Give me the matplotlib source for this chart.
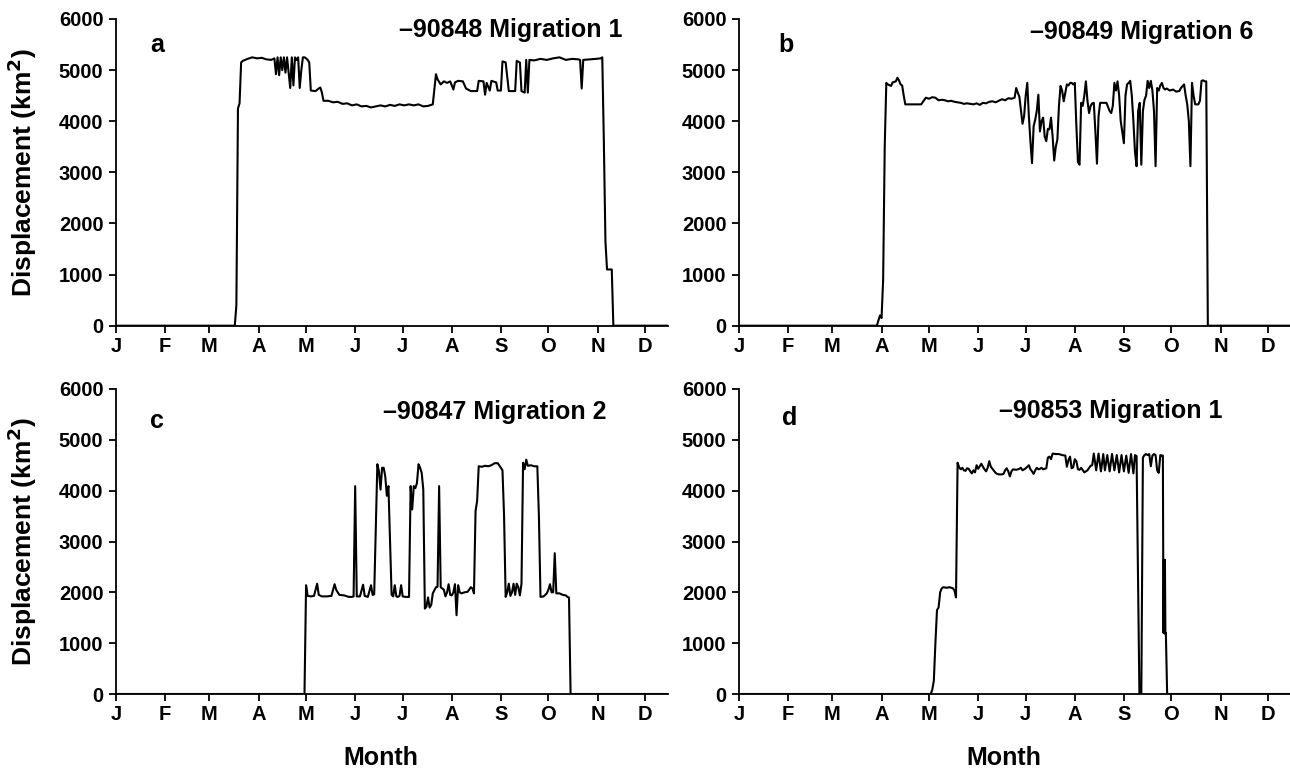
import matplotlib
matplotlib.use("Agg")
import matplotlib.pyplot as plt
import numpy as np

plt.rcParams['font.family'] = ['Liberation Sans', 'DejaVu Sans']
plt.rcParams['font.weight'] = 'bold'
plt.rcParams['font.size'] = 14.5

# month boundaries (day of year) and labels
month_starts = [0, 31, 59, 90, 120, 151, 181, 212, 243, 273, 304, 334]
month_labels = ['J', 'F', 'M', 'A', 'M', 'J', 'J', 'A', 'S', 'O', 'N', 'D']
x_end = 348.5

# panel a: -90848 Migration 1
a_days = [0, 75, 76, 77, 78, 79, 80, 83, 86, 89, 92, 95, 98,
          100, 101, 102, 103, 104, 105, 106, 107, 108, 109, 110, 111, 112, 113, 114, 115,
          116, 117, 118, 119, 120, 121, 122, 123, 126, 128, 129, 130, 131, 134, 137, 140,
          143, 146, 149, 152, 155, 158, 161, 164, 167, 170, 173, 176, 179, 182, 185, 188,
          191, 194, 197, 200, 202, 203, 205, 207, 209, 211, 213, 214, 216, 219, 221, 224,
          228, 229, 232, 233, 234, 236, 237, 240, 241, 243, 244, 246, 248, 252, 253, 255,
          256, 258, 259, 260, 261, 264, 268, 272, 276, 280, 284, 288, 292, 293, 294, 295,
          299, 303, 306, 307, 308, 309, 310, 313, 314, 349]
a_vals = [0, 0, 400, 4250, 4350, 5150, 5180, 5220, 5250, 5230, 5240, 5210, 5200,
          5230, 4920, 5250, 4900, 5250, 5000, 5250, 4950, 5250, 4950, 4650, 5250, 4700, 5250, 5200, 5250,
          4650, 5000, 5250, 5250, 5230, 5200, 5150, 4600, 4590, 4640, 4660, 4560, 4400, 4400, 4370, 4380,
          4340, 4350, 4310, 4330, 4290, 4300, 4270, 4290, 4310, 4290, 4320, 4300, 4330, 4310, 4330, 4310,
          4330, 4290, 4300, 4330, 4920, 4820, 4720, 4780, 4750, 4780, 4620, 4760, 4790, 4780, 4640, 4590,
          4590, 4790, 4780, 4520, 4750, 4600, 4790, 4760, 4600, 4600, 5170, 5150, 4590, 4590, 5180, 5150,
          4590, 4560, 5200, 4560, 5200, 5190, 5220, 5200, 5230, 5250, 5200, 5220, 5210, 5200, 4640, 5200,
          5210, 5220, 5230, 5250, 3600, 1650, 1100, 1100, 0, 0]

# panel b: -90849 Migration 6
b_days = [0, 87, 88, 89, 90, 91, 92, 93, 94, 96, 97, 99, 100, 101, 102, 103, 104, 105,
          110, 115, 117, 118, 120, 122, 124, 126, 128, 130, 132, 134, 136, 138, 140, 142,
          144, 146, 148, 150, 152, 154, 156, 158, 160, 162, 164, 166, 168, 170, 172, 174,
          175, 176, 177, 179, 180, 181, 182, 183, 184, 185, 186, 187, 188, 189, 190, 191,
          192, 193, 194, 195, 196, 197, 198, 199, 200, 201, 202, 203, 204, 205, 206, 207,
          208, 209, 210, 211, 212, 213, 214, 215, 216, 217, 218, 219, 220, 221, 222, 223,
          224, 225, 226, 227, 228, 230, 232, 234, 235, 236, 237, 238, 239, 240, 241, 243,
          244, 245, 246, 247, 248, 249, 250, 251, 252, 253, 254, 255, 256, 257, 258, 259,
          260, 261, 262, 263, 264, 265, 266, 267, 268, 269, 270, 272, 274, 276, 278, 279,
          281, 282, 283, 284, 285, 286, 287, 288, 290, 291, 292, 293, 294, 295, 296, 349]
b_vals = [0, 0, 100, 200, 150, 900, 3500, 4750, 4720, 4690, 4760, 4780, 4850, 4800, 4720, 4700, 4500, 4330,
          4330, 4330, 4420, 4460, 4440, 4470, 4460, 4410, 4420, 4410, 4390, 4400, 4380, 4370, 4360, 4340,
          4350, 4340, 4330, 4350, 4320, 4360, 4350, 4380, 4390, 4370, 4400, 4430, 4410, 4450, 4440, 4460,
          4650, 4560, 4480, 3950, 4100, 4500, 4750, 4100, 3600, 3180, 3900, 4030, 4200, 4520, 3800, 4000,
          4070, 3700, 3610, 3850, 3840, 4070, 3700, 3230, 3500, 3640, 4300, 4690, 4600, 4390, 4550, 4720,
          4700, 4750, 4750, 4720, 4750, 3900, 3200, 3150, 4360, 4300, 4500, 4780, 4400, 4160, 4300, 4350,
          4360, 3800, 3170, 4100, 4360, 4360, 4360, 4200, 4160, 4300, 4750, 4600, 4780, 4500, 4000, 3570,
          4500, 4720, 4750, 4790, 4500, 4000, 3400, 3120, 4200, 4360, 3150, 4200, 4420, 4500, 4790, 4650,
          4790, 4600, 4200, 3120, 4650, 4600, 4700, 4750, 4650, 4620, 4640, 4600, 4620, 4580, 4590, 4650,
          4720, 4500, 4330, 4000, 3120, 4750, 4500, 4330, 4330, 4400, 4790, 4800, 4780, 4780, 0, 0]

# panel c: -90847 Migration 2
c_days = [0, 119, 120, 121, 123, 125, 127, 128, 130, 133, 136, 138, 139, 141, 144, 147, 149, 150,
          151, 152, 154, 156, 157, 159, 161, 162, 163, 165, 166, 167, 168, 169, 170, 171, 172, 173,
          174, 175, 176, 177, 178, 179, 180, 181, 183, 185, 186, 187, 188, 189, 190, 191, 192, 193,
          194, 195, 196, 197, 198, 199, 200, 202, 203, 204, 205, 207, 208, 209, 210, 211, 212, 213,
          214, 215, 216, 217, 218, 220, 222, 224, 225, 226, 227, 228, 229, 231, 233, 235, 237, 239,
          241, 243, 244, 245, 246, 247, 248, 249, 250, 251, 252, 253, 254, 255, 256, 257, 258, 259,
          260, 262, 264, 266, 267, 268, 270, 272, 273, 274, 275, 276, 277, 278, 280, 282, 284, 285,
          286, 287, 349]
c_vals = [0, 0, 2140, 1930, 1920, 1930, 2170, 1950, 1920, 1920, 1930, 2160, 2050, 1950, 1940, 1910, 1910, 1920,
          4090, 1920, 1920, 2150, 1930, 1910, 2140, 1950, 1960, 4520, 4380, 4020, 4450, 4450, 4280, 3900, 4090, 3000,
          1950, 1920, 2140, 1920, 1910, 1930, 2140, 1920, 1910, 1910, 4090, 3630, 4090, 4050, 4150, 4520, 4450, 4350,
          4020, 1680, 1720, 1900, 1700, 1750, 1980, 2100, 2110, 4090, 2100, 2050, 1920, 2000, 2160, 1950, 1940, 2000,
          2160, 1550, 2140, 2000, 1980, 2000, 2010, 2100, 2080, 1980, 3600, 3800, 4480, 4470, 4490, 4480, 4500, 4540,
          4540, 4450, 4400, 3500, 1910, 2000, 2170, 1930, 2000, 2170, 1950, 2170, 2100, 1940, 2170, 4550, 4420, 4610,
          4490, 4500, 4480, 4480, 3500, 1910, 1920, 1980, 2050, 2160, 2000, 2000, 2770, 1980, 1980, 1950, 1940, 1910,
          1900, 0, 0]

# panel d: -90853 Migration 1
d_days = [0, 121, 122, 123, 124, 125, 126, 127, 128, 129, 131, 133, 135, 136, 137, 138, 139, 140,
          141, 142, 143, 144, 145, 146, 147, 148, 149, 150, 151, 152, 153, 154, 155, 156, 157, 158,
          159, 160, 161, 162, 163, 164, 166, 167, 168, 169, 170, 171, 172, 173, 175, 177, 178, 179,
          180, 181, 182, 183, 184, 185, 186, 187, 188, 189, 190, 191, 192, 193, 194, 195, 196, 197,
          198, 200, 202, 204, 206, 207, 208, 209, 210, 211, 212, 213, 214, 215, 216, 218, 220, 222,
          223, 224, 225.5, 227, 228.5, 230, 231, 232.5, 234, 235.5, 237, 238.5, 240, 241.5, 243, 244.5,
          246, 247.5, 249, 250, 251, 252, 252.8, 254, 255, 256, 257, 258,
          259, 260, 261, 262, 263, 264, 265, 266, 267, 267.6, 268, 268.3, 268.6, 268.9, 269.2, 269.5,
          270.3, 349]
d_vals = [0, 0, 80, 260, 1000, 1650, 1700, 2000, 2080, 2100, 2090, 2100, 2080, 2040, 1900, 4550, 4460, 4420,
          4450, 4400, 4390, 4440, 4430, 4380, 4340, 4400, 4360, 4500, 4430, 4480, 4530, 4470, 4420, 4380, 4450, 4580,
          4470, 4430, 4390, 4350, 4330, 4320, 4320, 4330, 4400, 4440, 4380, 4280, 4380, 4420, 4410, 4430, 4450, 4400,
          4420, 4440, 4470, 4500, 4420, 4380, 4330, 4400, 4450, 4420, 4430, 4450, 4420, 4430, 4440, 4650, 4670, 4620,
          4730, 4720, 4720, 4700, 4690, 4470, 4600, 4670, 4440, 4460, 4620, 4580, 4420, 4410, 4450, 4360, 4400, 4490,
          4500, 4730, 4400, 4730, 4380, 4720, 4400, 4700, 4380, 4720, 4400, 4700, 4360, 4700, 4380, 4690,
          4350, 4720, 4340, 4700, 4680, 2000, 0, 0, 4650, 4700, 4720, 4700,
          4720, 4480, 4690, 4720, 4700, 4400, 4350, 4700, 4690, 4690, 1200, 2640, 1190, 2640, 1190, 1200,
          0, 0]

panels = [
    ('a', '\u201390848 Migration 1', a_days, a_vals),
    ('b', '\u201390849 Migration 6', b_days, b_vals),
    ('c', '\u201390847 Migration 2', c_days, c_vals),
    ('d', '\u201390853 Migration 1', d_days, d_vals),
]

# axes rectangles in figure fraction (from pixel positions)
W, H = 1290, 770
aw = 552 / W
rects = [
    (116 / W, 1 - 325.7 / H, aw, 306.7 / H),
    (739 / W, 1 - 325.7 / H, aw, 306.7 / H),
    (116 / W, 1 - 694 / H, aw, 305 / H),
    (739 / W, 1 - 694 / H, aw, 305 / H),
]
# letter and title placement (axes fraction)
letter_pos = [(0.074, 0.915), (0.085, 0.915), (0.074, 0.895), (0.091, 0.905)]
title_pos = [(0.918, 0.964), (0.931, 0.958), (0.888, 0.925), (0.875, 0.928)]

fig = plt.figure(figsize=(12.9, 7.7), dpi=100)

for i, (letter, title, days, vals) in enumerate(panels):
    ax = fig.add_axes(rects[i])
    ax.plot(days, vals, color='black', linewidth=1.5)
    ax.set_xlim(0, x_end)
    ax.set_ylim(0, 6000)
    ax.set_yticks(np.arange(0, 6001, 1000))
    ax.set_xticks(month_starts)
    ax.set_xticklabels(month_labels)
    ax.tick_params(axis='x', direction='out', length=5, width=1.3, pad=3, labelsize=14.5)
    ax.tick_params(axis='y', direction='out', length=5, width=1.3, labelsize=14.5, pad=4)
    for s in ['top', 'right']:
        ax.spines[s].set_visible(False)
    for s in ['left', 'bottom']:
        ax.spines[s].set_linewidth(1.3)
    ax.text(letter_pos[i][0], letter_pos[i][1], letter, transform=ax.transAxes,
            ha='center', va='center', fontsize=18, fontweight='bold')
    ax.text(title_pos[i][0], title_pos[i][1], title, transform=ax.transAxes,
            ha='right', va='center', fontsize=18, fontweight='bold')
    if i % 2 == 0:
        ax.set_ylabel('Displacement (km$^\\mathbf{2}$)', fontsize=19, fontweight='bold')
        ax.yaxis.set_label_coords(-0.14, 0.5)
    if i >= 2:
        ax.set_xlabel('Month', fontsize=18, fontweight='bold')
        ax.xaxis.set_label_coords(0.48, -0.172)

fig.savefig('out.png', dpi=100)
